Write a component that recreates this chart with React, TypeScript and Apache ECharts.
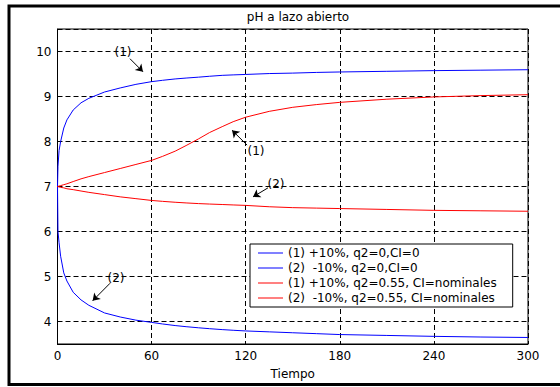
import React, { useEffect, useRef } from "react";
import * as echarts from "echarts";

const TIME = [0, 0.3, 1, 2, 4, 6, 10, 15, 20, 30, 40, 50, 60, 67, 75, 82, 90, 97, 105, 112, 120, 135, 150, 165, 180, 210, 240, 270, 300];
const BLUE_UP = [7.0, 7.45, 7.8, 8.0, 8.3, 8.48, 8.7, 8.86, 8.96, 9.1, 9.19, 9.27, 9.33, 9.36, 9.39, 9.41, 9.43, 9.45, 9.47, 9.48, 9.49, 9.51, 9.52, 9.535, 9.545, 9.56, 9.575, 9.585, 9.595];
const BLUE_DOWN = [7.0, 6.0, 5.75, 5.45, 5.08, 4.9, 4.65, 4.48, 4.36, 4.19, 4.1, 4.03, 3.98, 3.945, 3.91, 3.885, 3.86, 3.84, 3.82, 3.805, 3.79, 3.77, 3.75, 3.73, 3.71, 3.69, 3.67, 3.655, 3.645];
const RED_UP = [7.0, 7.0, 7.01, 7.02, 7.04, 7.06, 7.11, 7.17, 7.22, 7.31, 7.4, 7.49, 7.58, 7.67, 7.785, 7.91, 8.06, 8.2, 8.33, 8.44, 8.54, 8.67, 8.76, 8.82, 8.87, 8.94, 8.99, 9.02, 9.04];
const RED_DOWN = [7.0, 7.0, 6.99, 6.98, 6.97, 6.95, 6.93, 6.9, 6.87, 6.82, 6.77, 6.73, 6.69, 6.67, 6.65, 6.635, 6.62, 6.61, 6.6, 6.59, 6.58, 6.55, 6.53, 6.52, 6.51, 6.49, 6.47, 6.46, 6.45];

const SERIES_NAMES = [
  "(1) +10%, q2=0,CI=0",
  "(2)  -10%, q2=0,CI=0",
  "(1) +10%, q2=0.55, CI=nominales",
  "(2)  -10%, q2=0.55, CI=nominales",
];
const SERIES_COLORS = ["#0000ff", "#0000ff", "#ff0000", "#ff0000"];
const SERIES_VALUES = [BLUE_UP, BLUE_DOWN, RED_UP, RED_DOWN];

// annotation labels: [text, labelPos, arrowStart, arrowEnd] in data coordinates
const ANNOTATIONS: [string, number[], number[], number[]][] = [
  ["(1)", [41.8, 9.99], [46.2, 9.84], [54.5, 9.55]],
  ["(2)", [37.3, 4.96], [33.5, 4.85], [22.4, 4.46]],
  ["(1)", [126.6, 7.79], [120.9, 7.92], [111.3, 8.25]],
  ["(2)", [139.3, 7.06], [134.2, 6.97], [124.7, 6.77]],
];

const TITLE = "pH a lazo abierto";
const X_NAME = "Tiempo";
const FONT = "DejaVu Sans";

export default function App() {
  const ref = useRef<HTMLDivElement>(null);
  useEffect(() => {
    if (!ref.current) return;
    const chart = echarts.init(ref.current, null, { renderer: "svg" });
    const series = SERIES_VALUES.map((vals, i) => {
      const ann = ANNOTATIONS[i];
      return {
        name: SERIES_NAMES[i],
        type: "line",
        symbol: "none",
        showSymbol: false,
        data: TIME.map((t, k) => [t, vals[k]]),
        lineStyle: { color: SERIES_COLORS[i], width: 1 },
        itemStyle: { color: SERIES_COLORS[i] },
        markLine: {
          silent: true,
          symbol: ["none", "arrow"],
          symbolSize: 7,
          lineStyle: { color: "#000", width: 1, type: "solid" },
          label: { show: false },
          data: [[{ coord: ann[2] }, { coord: ann[3] }]],
        },
        markPoint: {
          silent: true,
          symbol: "circle",
          symbolSize: 1,
          itemStyle: { color: "rgba(0,0,0,0)" },
          label: {
            show: true,
            position: "inside",
            formatter: (p: any) => p.name,
            color: "#000",
            fontSize: 12,
            fontFamily: FONT,
          },
          data: [{ name: ann[0], coord: ann[1] }],
        },
      };
    });
    chart.setOption({
      animation: false,
      backgroundColor: "#fff",
      textStyle: { fontFamily: FONT },
      title: {
        text: TITLE,
        left: 293,
        top: 6,
        textAlign: "center",
        textStyle: { fontSize: 12, fontWeight: "normal", color: "#000", fontFamily: FONT },
      },
      grid: {
        left: 57.5,
        right: 32,
        top: 29,
        bottom: 43,
        show: true,
        borderColor: "#000",
        borderWidth: 1,
        backgroundColor: "#fff",
        outerBoundsMode: "none",
      },
      legend: {
        left: 250,
        top: 244,
        orient: "vertical",
        icon: "rect",
        itemWidth: 25,
        itemHeight: 1,
        itemGap: 1,
        padding: [2, 16, 2, 8],
        backgroundColor: "#fff",
        borderColor: "#000",
        borderWidth: 1,
        borderRadius: 0,
        textStyle: { fontSize: 12, color: "#000", fontFamily: FONT, lineHeight: 14 },
        data: SERIES_NAMES,
      },
      xAxis: {
        type: "value",
        min: 0,
        max: 300,
        interval: 60,
        name: X_NAME,
        nameLocation: "middle",
        nameGap: 24,
        nameTextStyle: { fontSize: 12, color: "#000", fontFamily: FONT },
        axisLine: { show: true, lineStyle: { color: "#000", width: 1 } },
        axisTick: { show: false },
        axisLabel: { color: "#000", fontSize: 12, margin: 6, fontFamily: FONT },
        splitLine: { show: true, lineStyle: { color: "#000", width: 1, type: [5, 3] } },
      },
      yAxis: {
        type: "value",
        min: 3.5,
        max: 10.5,
        axisLine: { show: true, lineStyle: { color: "#000", width: 1 } },
        axisTick: { show: false },
        axisLabel: {
          color: "#000",
          fontSize: 12,
          margin: 6,
          fontFamily: FONT,
          formatter: (v: number) => (Number.isInteger(v) ? String(v) : ""),
        },
        splitLine: { show: true, lineStyle: { color: "#000", width: 1, type: [5, 3] } },
      },
      graphic: [
        {
          type: "rect",
          shape: { x: 9, y: 6, width: 600, height: 378.5 },
          style: { fill: "none", stroke: "#000", lineWidth: 3 },
          silent: true,
          z: 100,
        },
      ],
      series,
    });
    return () => chart.dispose();
  }, []);
  return (
    <div
      ref={ref}
      style={{ position: "absolute", left: 0, top: 0, width: 560, height: 387 }}
    />
  );
}
